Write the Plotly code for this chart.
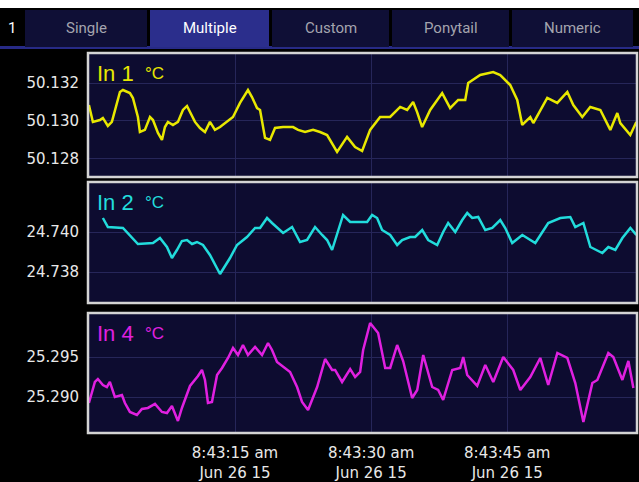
import pandas as pd
import plotly.graph_objects as go

# seconds after 08:43:00 on Jun 26 2015
base = pd.Timestamp('2015-06-26 08:43:00')

in1_t = [-1.10, -0.66, 0.11, 0.44, 0.99, 1.43, 2.32, 2.65, 3.42, 3.75, 4.30, 4.52, 5.07, 5.63, 5.96,
         6.51, 6.95, 7.28, 7.61, 8.16, 8.71, 9.26, 9.71, 10.04, 10.59, 11.14, 11.69, 12.24, 12.79,
         13.35, 14.12, 14.78, 15.55, 16.43, 16.87, 17.43, 17.76, 18.31, 18.86, 19.41, 20.29, 21.40,
         21.95, 22.72, 23.60, 24.37, 25.15, 26.25, 27.35, 28.23, 29.01, 29.89, 30.99, 32.09, 33.20,
         33.97, 34.63, 35.07, 35.62, 36.51, 37.83, 38.71, 39.59, 40.37, 40.70, 42.02, 43.45, 44.23,
         45.33, 46.10, 46.65, 47.54, 47.87, 49.41, 50.51, 51.62, 52.28, 53.27, 54.15, 55.26, 56.36,
         57.13, 57.46, 58.56, 59.23]
in1_v = [50.13084, 50.12995, 50.13005, 50.13016, 50.12974, 50.12995, 50.13153, 50.13163, 50.13147,
         50.13121, 50.13021, 50.12942, 50.12953, 50.13021, 50.13005, 50.12937, 50.12900, 50.12968,
         50.12995, 50.12979, 50.12995, 50.13058, 50.13079, 50.13047, 50.12995, 50.12963, 50.12942,
         50.12995, 50.12953, 50.12968, 50.12995, 50.13021, 50.13095, 50.13163, 50.13126, 50.13068,
         50.13058, 50.12911, 50.12900, 50.12963, 50.12968, 50.12968, 50.12953, 50.12942, 50.12953,
         50.12942, 50.12926, 50.12837, 50.12916, 50.12863, 50.12842, 50.12953, 50.13021, 50.13021,
         50.13074, 50.13058, 50.13100, 50.13047, 50.12968, 50.13058, 50.13147, 50.13068, 50.13111,
         50.13111, 50.13200, 50.13242, 50.13258, 50.13242, 50.13189, 50.13111, 50.12979, 50.13021,
         50.12989, 50.13121, 50.13095, 50.13153, 50.13084, 50.13021, 50.13074, 50.13058, 50.12953,
         50.13042, 50.12989, 50.12926, 50.12995]

in2_t = [0.44, 0.99, 2.65, 4.30, 5.96, 6.73, 7.50, 8.05, 8.60, 9.15, 9.71, 10.26, 10.81, 11.47,
         12.24, 13.35, 14.45, 15.22, 16.32, 17.21, 17.76, 18.53, 19.08, 20.30, 21.29, 22.17, 22.94,
         23.82, 24.60, 25.15, 25.70, 26.25, 26.91, 27.69, 29.56, 30.11, 30.66, 31.21, 32.10, 32.87,
         33.42, 34.30, 34.85, 35.63, 36.29, 37.28, 37.94, 38.49, 39.27, 40.04, 40.59, 41.14, 41.80,
         42.58, 43.35, 44.23, 44.78, 45.55, 46.66, 48.09, 49.52, 50.85, 51.95, 52.50, 53.39, 54.16,
         55.48, 56.14, 56.91, 57.69, 58.57, 59.23]
in2_v = [24.74070, 24.74025, 24.74020, 24.73940, 24.73945, 24.73970, 24.73925, 24.73870, 24.73910,
         24.73955, 24.73960, 24.73940, 24.73950, 24.73935, 24.73885, 24.73790, 24.73870, 24.73935,
         24.73975, 24.74020, 24.74020, 24.74070, 24.74045, 24.73995, 24.74025, 24.73950, 24.73960,
         24.74025, 24.73985, 24.73960, 24.73910, 24.73995, 24.74085, 24.74050, 24.74050, 24.74085,
         24.74070, 24.74010, 24.73985, 24.73935, 24.73960, 24.73975, 24.73975, 24.74010, 24.73960,
         24.73935, 24.74000, 24.74045, 24.74000, 24.74060, 24.74095, 24.74070, 24.74075, 24.74010,
         24.74020, 24.74060, 24.74020, 24.73945, 24.73985, 24.73945, 24.74045, 24.74070, 24.74075,
         24.74025, 24.74045, 24.73925, 24.73895, 24.73925, 24.73910, 24.73970, 24.74020, 24.73985]

in4_t = [-1.10, -0.44, -0.11, 0.44, 0.88, 1.21, 1.76, 2.54, 2.87, 3.42, 4.19, 4.74, 5.40, 6.18,
         6.95, 7.50, 8.05, 8.38, 8.71, 9.15, 10.04, 10.92, 11.36, 11.69, 12.02, 12.46, 13.02, 13.57,
         14.23, 14.78, 15.33, 15.88, 16.43, 17.21, 17.98, 18.64, 19.08, 19.63, 21.07, 21.84, 22.39,
         23.05, 24.05, 24.93, 25.70, 26.03, 26.80, 27.69, 28.24, 28.79, 29.12, 29.89, 30.77, 31.55,
         32.10, 32.87, 33.53, 34.52, 35.08, 35.74, 36.73, 37.39, 37.94, 38.94, 39.82, 40.15, 40.59,
         41.69, 42.58, 43.46, 44.56, 45.66, 46.44, 47.54, 48.64, 49.52, 50.52, 51.62, 52.50, 53.39,
         54.38, 54.93, 56.14, 56.69, 57.69, 58.35, 58.90]
in4_v = [25.28925, 25.29188, 25.29225, 25.29150, 25.29125, 25.29188, 25.29000, 25.29025, 25.28925,
         25.28813, 25.28775, 25.28850, 25.28863, 25.28913, 25.28813, 25.28800, 25.28888, 25.28800,
         25.28700, 25.28863, 25.29138, 25.29263, 25.29338, 25.29213, 25.28925, 25.28938, 25.29275,
         25.29363, 25.29488, 25.29613, 25.29525, 25.29650, 25.29525, 25.29625, 25.29525, 25.29675,
         25.29588, 25.29438, 25.29313, 25.29125, 25.28938, 25.28838, 25.29125, 25.29475, 25.29338,
         25.29338, 25.29188, 25.29350, 25.29250, 25.29313, 25.29588, 25.29925, 25.29800, 25.29363,
         25.29363, 25.29650, 25.29450, 25.28988, 25.29088, 25.29525, 25.29125, 25.29088, 25.28963,
         25.29338, 25.29363, 25.29500, 25.29275, 25.29138, 25.29400, 25.29188, 25.29500, 25.29338,
         25.29088, 25.29250, 25.29488, 25.29150, 25.29550, 25.29488, 25.29175, 25.28688, 25.29175,
         25.29213, 25.29550, 25.29500, 25.29213, 25.29450, 25.29113]

tab_names = ['Single', 'Multiple', 'Custom', 'Ponytail', 'Numeric']
time_ticks = [15, 30, 45]
time_labels = ['8:43:15 am<br>Jun 26 15', '8:43:30 am<br>Jun 26 15', '8:43:45 am<br>Jun 26 15']

W, H = 639, 482


def fx(x):
    return x / W


def fy(y):
    return 1 - y / H


def when(secs):
    return base + pd.to_timedelta(secs, unit='s')


panels = [
    dict(label='In 1', color='#e8e800', t=in1_t, v=in1_v, rng=[50.12705, 50.13358],
         ticks=[50.128, 50.130, 50.132], top=53, bottom=177),
    dict(label='In 2', color='#22dcdc', t=in2_t, v=in2_v, rng=[24.73645, 24.7425],
         ticks=[24.738, 24.740], top=182, bottom=303),
    dict(label='In 4', color='#e020e0', t=in4_t, v=in4_v, rng=[25.2855, 25.3005],
         ticks=[25.290, 25.295], top=313, bottom=433),
]

left, right = 88, 637
grid = '#262659'
tick_font = dict(family='DejaVu Sans', size=15, color='#e8e8e8')

fig = go.Figure()
shapes = []
annotations = []
layout = {}

for i, p in enumerate(panels, start=1):
    sfx = '' if i == 1 else str(i)
    fig.add_trace(go.Scatter(
        x=when(p['t']), y=p['v'], mode='lines',
        line=dict(color=p['color'], width=2.5),
        xaxis=f'x{sfx}', yaxis=f'y{sfx}', showlegend=False,
    ))
    layout[f'xaxis{sfx}'] = dict(
        domain=[fx(left), fx(right)], anchor=f'y{sfx}',
        range=[when(-1.2), when(59.3)],
        tickvals=list(when(time_ticks)), ticktext=time_labels,
        showticklabels=(i == 3), showgrid=True, gridcolor=grid, gridwidth=1,
        zeroline=False, showline=False, ticks='outside', ticklen=6, tickcolor='black',
        tickfont=tick_font,
    )
    layout[f'yaxis{sfx}'] = dict(
        domain=[fy(p['bottom']), fy(p['top'])], anchor=f'x{sfx}',
        range=p['rng'], tickvals=p['ticks'], ticktext=[f'{v:.3f}' for v in p['ticks']],
        showgrid=True, gridcolor=grid, gridwidth=1, zeroline=False, showline=False,
        ticks='outside', ticklen=5, tickcolor='black', tickfont=tick_font,
    )
    shapes.append(dict(type='rect', xref='paper', yref='paper',
                       x0=fx(left), x1=fx(right), y0=fy(p['bottom']), y1=fy(p['top']),
                       line=dict(color='#d4d4d4', width=2.5)))
    annotations.append(dict(xref='paper', yref='paper', x=fx(95), y=fy(p['top'] + 20),
                            text=p['label'], showarrow=False, xanchor='left', yanchor='middle',
                            font=dict(family='Liberation Sans Narrow, Liberation Sans', size=22,
                                      color=p['color'])))
    annotations.append(dict(xref='paper', yref='paper', x=fx(143), y=fy(p['top'] + 20),
                            text='°C', showarrow=False, xanchor='left', yanchor='middle',
                            font=dict(family='Liberation Sans Narrow, Liberation Sans', size=17,
                                      color=p['color'])))

# white strip on top and the tab bar
shapes.append(dict(type='rect', xref='paper', yref='paper', x0=0, x1=1, y0=fy(8), y1=1,
                   fillcolor='white', line=dict(width=0), layer='below'))
shapes.append(dict(type='rect', xref='paper', yref='paper', x0=0, x1=1, y0=fy(49), y1=fy(46),
                   fillcolor='#272a86', line=dict(width=0), layer='below'))
tab_edges = [(25, 147), (150, 269), (272, 389), (392, 509), (512, 633)]
for name, (a, b) in zip(tab_names, tab_edges):
    selected = name == 'Multiple'
    shapes.append(dict(type='rect', xref='paper', yref='paper', x0=fx(a), x1=fx(b),
                       y0=fy(47), y1=fy(10),
                       fillcolor='#2b2e8c' if selected else '#0f0f36', line=dict(width=0),
                       layer='below'))
    annotations.append(dict(xref='paper', yref='paper', x=fx((a + b) / 2), y=fy(28), text=name,
                            showarrow=False, xanchor='center', yanchor='middle',
                            font=dict(family='Roboto', size=15,
                                      color='white' if selected else '#a4a4ae')))
annotations.append(dict(xref='paper', yref='paper', x=fx(12), y=fy(28), text='1',
                        showarrow=False, xanchor='center', yanchor='middle',
                        font=dict(family='Roboto', size=15, color='white')))

fig.update_layout(
    width=W, height=H,
    margin=dict(l=0, r=0, t=0, b=0),
    paper_bgcolor='black', plot_bgcolor='#0d0c30',
    shapes=shapes, annotations=annotations,
    **layout,
)

# drop the default page margin so the figure fills the window exactly
fig.write_html('out.html', config={'displayModeBar': False},
               post_script="document.body.style.margin='0';")
